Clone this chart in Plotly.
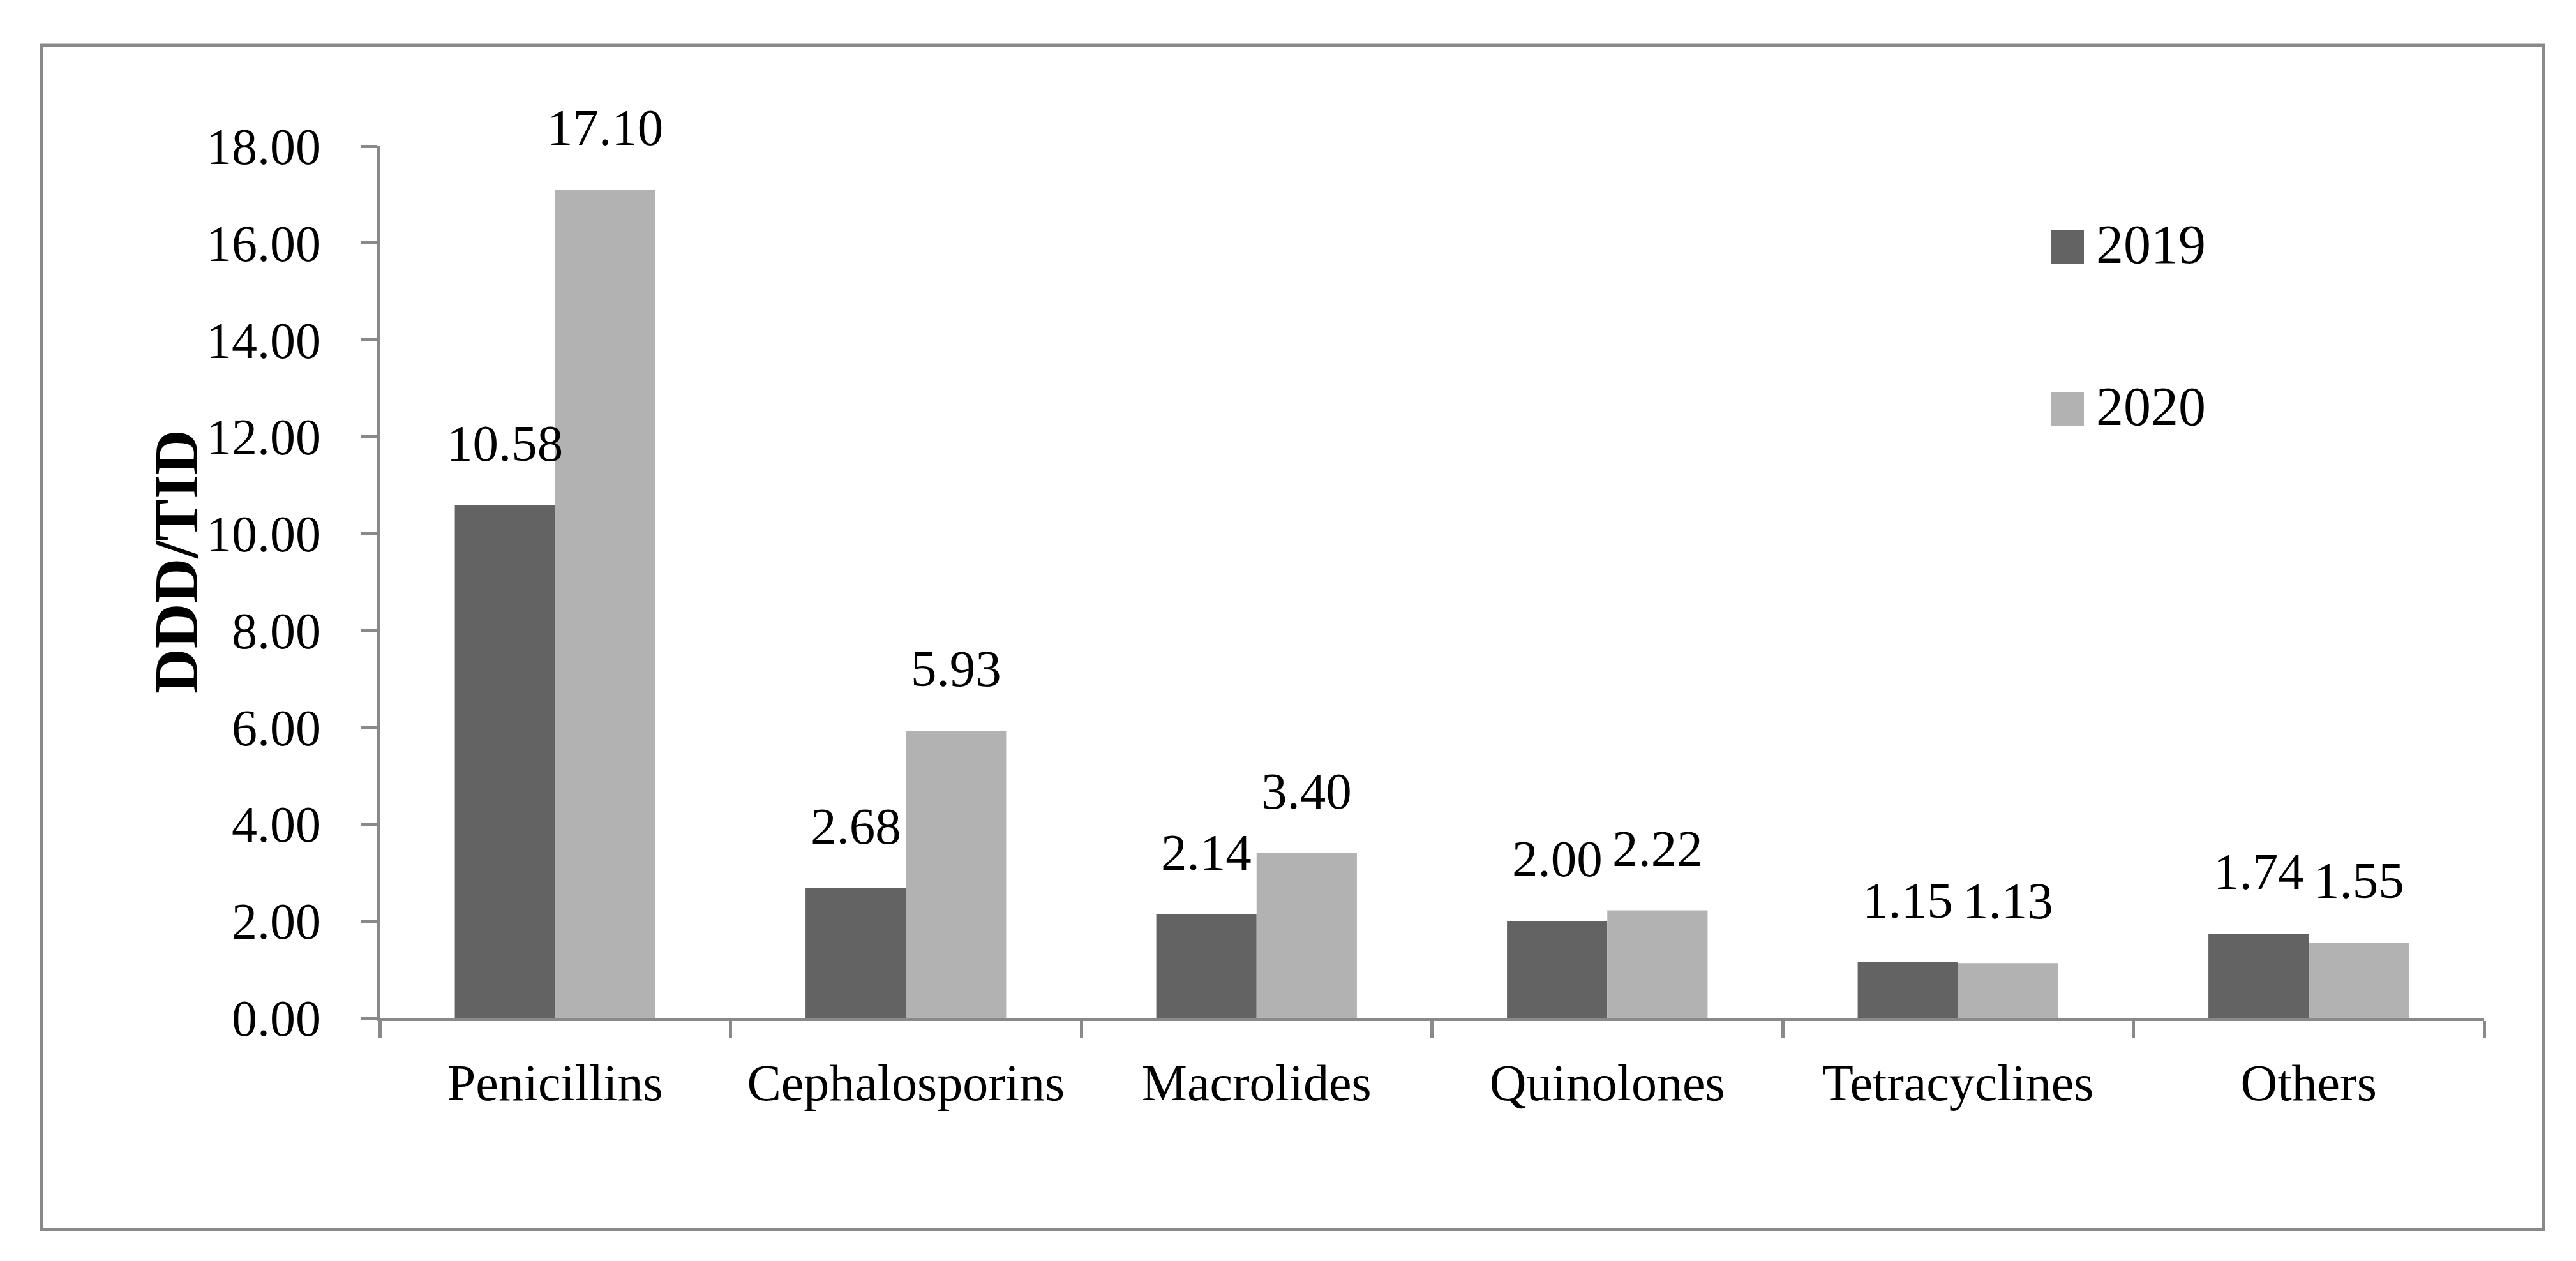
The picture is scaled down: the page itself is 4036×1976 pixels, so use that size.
import plotly.graph_objects as go

categories = ["Penicillins", "Cephalosporins", "Macrolides", "Quinolones", "Tetracyclines", "Others"]
series_names = ["2019", "2020"]
values_2019 = [10.58, 2.68, 2.14, 2.00, 1.15, 1.74]
values_2020 = [17.10, 5.93, 3.40, 2.22, 1.13, 1.55]
y_tick_values = [0, 2, 4, 6, 8, 10, 12, 14, 16, 18]
y_tick_labels = ["0.00", "2.00", "4.00", "6.00", "8.00", "10.00", "12.00", "14.00", "16.00", "18.00"]
y_title = "DDD/TID"

colors = ["#636363", "#b2b2b2"]
FONT = "Palatino Linotype, Book Antiqua, Palatino, Liberation Serif, serif"
AXIS_COLOR = "#898989"

W, H = 4036, 1976
ML, MR, MT, MB = 587, 152, 221, 389
PW = W - ML - MR
PH = H - MT - MB

fig = go.Figure()
series = [values_2019, values_2020]
for name, vals, col in zip(series_names, series, colors):
    fig.add_trace(go.Bar(
        x=categories, y=vals, name=name,
        marker=dict(color=col, line=dict(width=0)),
        showlegend=False,
    ))

bargap = 0.428
cat_w = PW / len(categories)
bar_w = cat_w * (1 - bargap) / 2

annotations = []
for i, vals in enumerate(series):
    shift = (-0.5 if i == 0 else 0.5) * bar_w
    for c, v in zip(categories, vals):
        annotations.append(dict(
            x=c, y=v, xref="x", yref="y", text=f"{v:.2f}",
            showarrow=False, xanchor="center", yanchor="bottom",
            xshift=shift, yshift=50,
            font=dict(family=FONT, size=81, color="black"),
        ))

# y-axis title
annotations.append(dict(
    x=(268 - ML) / PW, y=(MT + PH - 872) / PH, xref="paper", yref="paper",
    text=f"<b>{y_title}</b>", textangle=-90, showarrow=False,
    xanchor="center", yanchor="middle",
    font=dict(family=FONT, size=98, color="black"),
))

# manual legend
shapes = []
legend_rows = [(353, 405), (607, 659)]
for name, col, (y0, y1) in zip(series_names, colors, legend_rows):
    shapes.append(dict(
        type="rect", xref="paper", yref="paper",
        x0=(3205 - ML) / PW, x1=(3257 - ML) / PW,
        y0=(MT + PH - y1) / PH, y1=(MT + PH - y0) / PH,
        fillcolor=col, line=dict(width=0),
    ))
    annotations.append(dict(
        x=(3274 - ML) / PW, y=(MT + PH - (y0 + y1) / 2 + 4) / PH,
        xref="paper", yref="paper", text=name, showarrow=False,
        xanchor="left", yanchor="middle",
        font=dict(family=FONT, size=86, color="black"),
    ))

# outer frame
shapes.append(dict(
    type="rect", xref="paper", yref="paper",
    x0=(57.5 - ML) / PW, x1=(3976.5 - ML) / PW,
    y0=(MT + PH - 1918.5) / PH, y1=(MT + PH - 63) / PH,
    line=dict(color=AXIS_COLOR, width=5), fillcolor="rgba(0,0,0,0)",
    layer="below",
))

fig.update_layout(
    width=W, height=H, autosize=False,
    margin=dict(l=ML, r=MR, t=MT, b=MB, pad=0),
    paper_bgcolor="white", plot_bgcolor="white",
    barmode="group", bargap=bargap, bargroupgap=0,
    font=dict(family=FONT, color="black"),
    annotations=annotations, shapes=shapes,
    showlegend=False,
)
fig.update_xaxes(
    type="category", showline=True, linecolor=AXIS_COLOR, linewidth=5,
    ticks="outside", tickson="boundaries", ticklen=27, tickwidth=5, tickcolor=AXIS_COLOR,
    showgrid=False, zeroline=False,
    tickfont=dict(family=FONT, size=80, color="black"),
    ticklabelstandoff=28,
)
fig.update_yaxes(
    range=[0, 18], showline=True, linecolor=AXIS_COLOR, linewidth=5,
    tickmode="array", tickvals=y_tick_values, ticktext=y_tick_labels,
    ticks="outside", ticklen=25, tickwidth=5, tickcolor=AXIS_COLOR,
    showgrid=False, zeroline=False,
    tickfont=dict(family=FONT, size=80, color="black"),
    ticklabelstandoff=46,
)

fig.write_html("out.html")
